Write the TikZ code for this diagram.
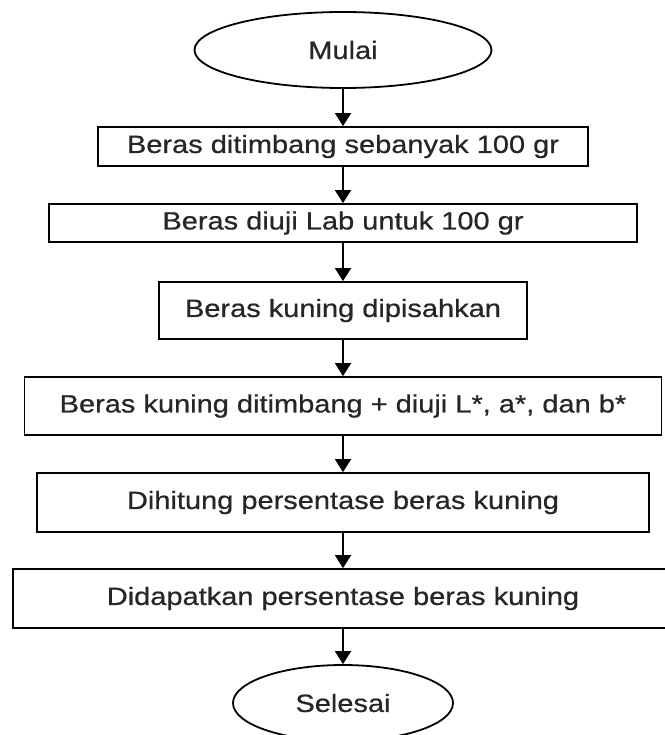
\documentclass[tikz,border=0pt]{standalone}
\usepackage{fontspec}
\setmainfont{Liberation Sans}[FakeStretch=1.16, FakeBold=0.6]
\usetikzlibrary{shapes.geometric,arrows.meta}

\tikzset{
  base/.style={draw=black, line width=1.8pt, fill=white, inner sep=0pt,
               font=\fontsize{25}{29}\selectfont, text=black!85},
  terminal/.style={base, ellipse, minimum height=76},
  procbox/.style={base, rectangle},
  flow/.style={draw=black, line width=1.8pt,
               -{Triangle[length=13pt, width=16pt]}}
}

\begin{document}
\begin{tikzpicture}[x=1pt, y=-1pt]
  \useasboundingbox (0,0) rectangle (664,735);

  % start / end terminals
  \node[terminal, minimum width=297] (mulai) at (343,50) {Mulai};

  % process steps
  \node[procbox, minimum width=490, minimum height=39] (s1) at (343,146.5)
    {Beras ditimbang sebanyak 100 gr};
  \node[procbox, minimum width=588, minimum height=38] (s2) at (343,223)
    {Beras diuji Lab untuk 100 gr};
  \node[procbox, minimum width=368, minimum height=57] (s3) at (343,310.5)
    {Beras kuning dipisahkan};
  \node[procbox, minimum width=637, minimum height=58] (s4) at (343,406)
    {Beras kuning ditimbang + diuji L*, a*, dan b*};
  \node[procbox, minimum width=612, minimum height=59] (s5) at (343,502.5)
    {Dihitung persentase beras kuning};
  \node[procbox, minimum width=660, minimum height=59] (s6) at (343,598.5)
    {Didapatkan persentase beras kuning};

  \node[terminal, minimum width=220] (selesai) at (343,703) {Selesai};

  % connectors
  \draw[flow] (mulai) -- (s1);
  \draw[flow] (s1) -- (s2);
  \draw[flow] (s2) -- (s3);
  \draw[flow] (s3) -- (s4);
  \draw[flow] (s4) -- (s5);
  \draw[flow] (s5) -- (s6);
  \draw[flow] (s6) -- (selesai);
\end{tikzpicture}
\end{document}
